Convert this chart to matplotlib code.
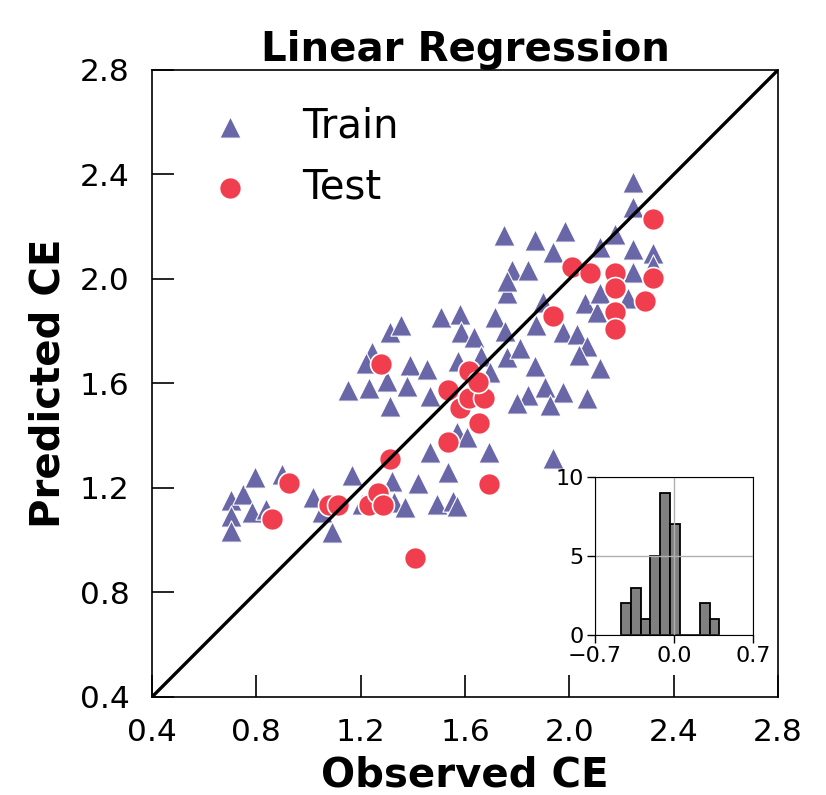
import numpy as np
import matplotlib

matplotlib.use("Agg")
import matplotlib.pyplot as plt


output_path = "out.png"

train_color = "#6a67a8"
test_color = "#f03e4f"

# observed / predicted CE
train_obs = [
    0.703, 0.703, 0.703, 0.749, 0.783, 0.795, 0.837, 0.898, 1.017, 1.052,
    1.090, 1.167, 1.205, 1.320, 1.328, 1.370, 1.420, 1.493, 1.554, 1.569,
    1.466, 1.535, 1.692, 1.569, 1.608, 1.937,
    1.313, 1.355, 1.243, 1.220, 1.151, 1.232, 1.301, 1.389, 1.454, 1.378,
    1.313, 1.466, 1.508, 1.581, 1.585, 1.635, 1.715, 1.753, 1.573, 1.661,
    1.696, 1.761, 1.811, 1.761, 1.899, 1.872, 1.976, 2.029, 2.068, 2.037,
    2.118, 1.868, 1.907, 1.976, 2.068, 1.842, 1.799, 1.926, 2.060, 2.106,
    2.118, 2.225,
    2.244, 2.244, 1.750, 1.868, 1.983, 1.937, 2.175, 2.118, 2.244, 2.321,
    1.780, 1.842, 1.761, 2.244, 2.321,
]
train_pred = [
    1.154, 1.093, 1.035, 1.177, 1.108, 1.242, 1.120, 1.254, 1.166, 1.108,
    1.032, 1.250, 1.139, 1.227, 1.146, 1.127, 1.219, 1.139, 1.150, 1.131,
    1.338, 1.261, 1.338, 1.414, 1.395, 1.315,
    1.797, 1.824, 1.721, 1.679, 1.575, 1.583, 1.610, 1.671, 1.656, 1.591,
    1.514, 1.552, 1.855, 1.866, 1.797, 1.778, 1.855, 1.801, 1.686, 1.705,
    1.644, 1.702, 1.736, 1.947, 1.912, 1.824, 1.797, 1.790, 1.744, 1.709,
    1.659, 1.667, 1.587, 1.568, 1.545, 1.556, 1.525, 1.518, 1.908, 1.874,
    1.947, 1.927,
    2.371, 2.276, 2.169, 2.149, 2.184, 2.103, 2.172, 2.123, 2.115, 2.100,
    2.035, 2.035, 1.992, 2.027, 2.054,
]

test_obs = [
    0.860, 0.925, 1.079, 1.113, 1.232, 1.266, 1.286, 1.313, 1.408, 1.278,
    1.535, 1.535, 1.581, 1.615, 1.615, 1.673, 1.654, 1.650, 1.692, 1.937,
    2.010, 2.079, 2.175, 2.175, 2.175, 2.175, 2.290, 2.321, 2.321,
]
test_pred = [
    1.081, 1.219, 1.135, 1.135, 1.135, 1.181, 1.135, 1.311, 0.932, 1.675,
    1.575, 1.376, 1.506, 1.648, 1.545, 1.545, 1.449, 1.606, 1.215, 1.858,
    2.046, 2.023, 2.023, 1.966, 1.874, 1.809, 1.916, 2.004, 2.230,
]

# residual histogram in the inset
hist_edges = [-0.471, -0.384, -0.296, -0.209, -0.122, -0.034,
              0.053, 0.141, 0.228, 0.315, 0.403]
hist_counts = [2, 3, 1, 5, 9, 7, 0, 0, 2, 1]

axis_min = 0.4
axis_max = 2.8
axis_ticks = [0.4, 0.8, 1.2, 1.6, 2.0, 2.4, 2.8]

fig = plt.figure(figsize=(8.26, 7.95), dpi=100)
ax = fig.add_axes([0.184, 0.1233, 0.7579, 0.7887])

ax.scatter(
    train_obs,
    train_pred,
    marker="^",
    s=235,
    color=train_color,
    edgecolors="white",
    linewidths=0.8,
    label="Train",
    zorder=2,
)
ax.scatter(
    test_obs,
    test_pred,
    marker="o",
    s=250,
    color=test_color,
    edgecolors="white",
    linewidths=1.2,
    label="Test",
    zorder=3,
)

ax.plot([axis_min, axis_max], [axis_min, axis_max], color="black", lw=2.4, zorder=4)

ax.set_xlim(axis_min, axis_max)
ax.set_ylim(axis_min, axis_max)
ax.set_xticks(axis_ticks)
ax.set_yticks(axis_ticks)
ax.set_xticklabels([f"{t:.1f}" for t in axis_ticks])
ax.set_yticklabels([f"{t:.1f}" for t in axis_ticks])
ax.tick_params(axis="both", direction="in", length=16, width=1.2, labelsize=22.5)
ax.tick_params(axis="x", pad=15)
ax.tick_params(axis="y", pad=16)
for spine in ax.spines.values():
    spine.set_linewidth(1.2)

ax.set_xlabel("Observed CE", fontsize=29, fontweight="bold", labelpad=6)
ax.set_ylabel("Predicted CE", fontsize=29, fontweight="bold", labelpad=8)
ax.set_title("Linear Regression", fontsize=29, fontweight="bold", pad=5)

ax.legend(
    loc="upper left",
    bbox_to_anchor=(0.002, 0.999),
    frameon=False,
    fontsize=29,
    handlelength=2.0,
    handletextpad=0.8,
    labelspacing=0.52,
    scatterpoints=1,
)

ax_in = fig.add_axes([0.7203, 0.2013, 0.1913, 0.1987])
ax_in.hist(
    hist_edges[:-1],
    bins=hist_edges,
    weights=hist_counts,
    color="#808080",
    edgecolor="black",
    linewidth=1.3,
)
ax_in.set_xlim(-0.7, 0.7)
ax_in.set_ylim(0, 10)
ax_in.set_xticks([-0.7, 0.0, 0.7])
ax_in.set_yticks([0, 5, 10])
ax_in.tick_params(axis="both", direction="out", length=6, width=1.0, labelsize=16, pad=2)
ax_in.grid(True, color="#b0b0b0", linewidth=1.0)

fig.savefig(output_path, dpi=100)
